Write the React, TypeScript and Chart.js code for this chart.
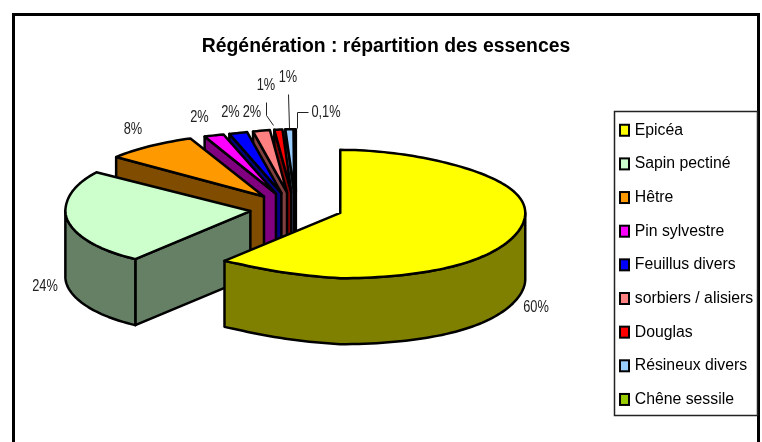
import React, { useEffect, useRef } from "react";
import { Chart, registerables } from "chart.js";

Chart.register(...registerables);

const titleText = "Régénération : répartition des essences";
const categories = ["Epicéa", "Sapin pectiné", "Hêtre", "Pin sylvestre", "Feuillus divers", "sorbiers / alisiers", "Douglas", "Résineux divers", "Chêne sessile"];
const shares = [60, 24, 8, 2, 2, 2, 1, 1, 0.1];
const shareLabels = ["60%", "24%", "8%", "2%", "2%", "2%", "1%", "1%", "0,1%"];
const topColors = ["#FFFF00", "#CCFFCC", "#FF9900", "#FF00FF", "#0000FF", "#FF8080", "#FF0000", "#99CCFF", "#99CC00"];
const wallColors = ["#808000", "#668066", "#804C00", "#800080", "#000080", "#804040", "#800000", "#4D6680", "#4D6600"];

// layout of the flattened pie, seen in slight perspective
const PIE = { cx: 296, cy: 208, r: 185, k: 63 / 185, depth: 66, explode: 46.5 };
const labelSpots: [number, number][] = [[536, 308], [45, 287], [133, 130], [199.5, 118], [230.5, 113], [252, 113], [266, 86], [288, 78], [326, 113]];
const leaders: [number, number][][] = [
  [[266, 102], [266, 115], [273, 125]],
  [[288, 94], [289, 128]],
  [[308, 112], [297, 112], [297, 128]],
];

// ou, ov: slice apex in the pie plane; ru, rv: point relative to that apex
const project = (ou: number, ov: number, ru: number, rv: number): [number, number] => {
  const v = ov + rv;
  const t = v / PIE.r;
  const spread = 1 + (t < 0 ? 0.156 : 0.1) * t * t * t;
  const left = Math.min(1, Math.max(0, -ru / (0.5 * PIE.r)));
  const lift = t < 0
    ? 13 * t * Math.max(0, 1 - (t * t) / 1.44) * left
    : -3.5 * t * left + 2 * t * t * (1 - left);
  return [PIE.cx + ou + ru * spread, PIE.cy + v * PIE.k + lift];
};

const pie3d = {
  id: "pie3d",
  beforeDraw(chart: any) {
    const { ctx } = chart;
    ctx.save();
    ctx.fillStyle = "#fff";
    ctx.fillRect(0, 0, chart.width, chart.height);
    ctx.strokeStyle = "#000";
    ctx.lineWidth = 3;
    ctx.strokeRect(13.5, 14.5, 745, 450);
    ctx.restore();
  },
  beforeDatasetDraw(chart: any) {
    const { ctx } = chart;
    const arcs = chart.getDatasetMeta(0).data;
    const items = arcs.map((arc: any, i: number) => {
      const mid = (arc.startAngle + arc.endAngle) / 2;
      return { i, a: arc.startAngle, b: arc.endAngle, u: Math.cos(mid) * PIE.explode, v: Math.sin(mid) * PIE.explode, mid };
    });
    items.sort((p: any, q: any) => Math.sin(p.mid) - Math.sin(q.mid));
    ctx.save();
    ctx.lineWidth = 2.5;
    ctx.lineJoin = "round";
    ctx.strokeStyle = "#000";
    const rim = (s: any, t: number) => project(s.u, s.v, Math.cos(t) * PIE.r, Math.sin(t) * PIE.r);
    const trace = (s: any, from: number, to: number, dy: number) => {
      const n = Math.max(1, Math.ceil(Math.abs(to - from) / 0.03));
      for (let j = 0; j <= n; j++) {
        const [x, y] = rim(s, from + ((to - from) * j) / n);
        ctx.lineTo(x, y + dy);
      }
    };
    const paint = (fill: string) => {
      ctx.closePath();
      ctx.fillStyle = fill;
      ctx.fill();
      ctx.stroke();
    };
    for (const s of items) {
      const wall = wallColors[s.i];
      const [ax, ay] = project(s.u, s.v, 0, 0);
      // radial faces that look toward the viewer
      const faces = [];
      if (-Math.cos(s.a) > 0) faces.push(s.a);
      if (Math.cos(s.b) > 0) faces.push(s.b);
      for (const t of faces) {
        const [ex, ey] = rim(s, t);
        ctx.beginPath();
        ctx.moveTo(ax, ay);
        ctx.lineTo(ex, ey);
        ctx.lineTo(ex, ey + PIE.depth);
        ctx.lineTo(ax, ay + PIE.depth);
        paint(wall);
      }
      // rim wall: only the part that faces the viewer
      for (const shift of [0, Math.PI * 2]) {
        const from = Math.max(s.a, shift);
        const to = Math.min(s.b, shift + Math.PI);
        if (to <= from) continue;
        ctx.beginPath();
        trace(s, from, to, 0);
        trace(s, to, from, PIE.depth);
        paint(wall);
      }
      ctx.beginPath();
      ctx.moveTo(ax, ay);
      trace(s, s.a, s.b, 0);
      paint(topColors[s.i]);
    }
    ctx.restore();
    return false;
  },
  afterDraw(chart: any) {
    const { ctx } = chart;
    ctx.save();
    // legend frame and swatches
    ctx.strokeStyle = "#222";
    ctx.lineWidth = 1.5;
    ctx.strokeRect(614.5, 111.5, 143, 304);
    const legend = chart.legend;
    ctx.strokeStyle = "#000";
    ctx.lineWidth = 2;
    legend.legendItems.forEach((item: any, i: number) => {
      const box = legend.legendHitBoxes[i];
      const mid = box.top + box.height / 2;
      ctx.fillStyle = topColors[i];
      ctx.fillRect(620, mid - 5.5, 9, 11);
      ctx.strokeRect(620, mid - 5.5, 9, 11);
    });
    // value labels
    ctx.fillStyle = "#222";
    ctx.textAlign = "center";
    ctx.textBaseline = "middle";
    ctx.font = '16px "Liberation Sans"';
    shareLabels.forEach((text, i) => {
      ctx.save();
      ctx.translate(labelSpots[i][0], labelSpots[i][1]);
      ctx.scale(0.8, 1);
      ctx.fillText(text, 0, 0);
      ctx.restore();
    });
    ctx.strokeStyle = "#222";
    ctx.lineWidth = 1;
    for (const line of leaders) {
      ctx.beginPath();
      line.forEach(([x, y], j) => (j ? ctx.lineTo(x + 0.5, y + 0.5) : ctx.moveTo(x + 0.5, y + 0.5)));
      ctx.stroke();
    }
    ctx.restore();
  },
  afterLayout(chart: any) {
    const legend = chart.legend;
    const w = legend.right - legend.left;
    legend.left = 603;
    legend.right = 603 + w;
    legend.top = 104.5;
  },
};

export default function App() {
  const ref = useRef<HTMLCanvasElement>(null);
  useEffect(() => {
    const chart = new Chart(ref.current as HTMLCanvasElement, {
      type: "pie",
      data: {
        labels: categories,
        datasets: [{ data: shares, backgroundColor: topColors, borderColor: "#000", borderWidth: 2 }],
      },
      plugins: [pie3d],
      options: {
        responsive: false,
        animation: false,
        layout: { padding: { left: 10, top: 35 } },
        plugins: {
          title: { display: true, text: titleText, color: "#000", padding: 0, font: { family: '"Liberation Sans"', size: 19.4, weight: "bold" } },
          tooltip: { enabled: false },
          legend: {
            position: "right",
            align: "start",
            labels: { boxWidth: 6, boxHeight: 8, padding: 17.85, color: "#000", font: { family: '"Liberation Sans"', size: 15.8 } },
          },
        },
      },
    } as any);
    return () => chart.destroy();
  }, []);
  return <canvas ref={ref} width={762} height={442} style={{ position: "absolute", left: 0, top: 0 }} />;
}
